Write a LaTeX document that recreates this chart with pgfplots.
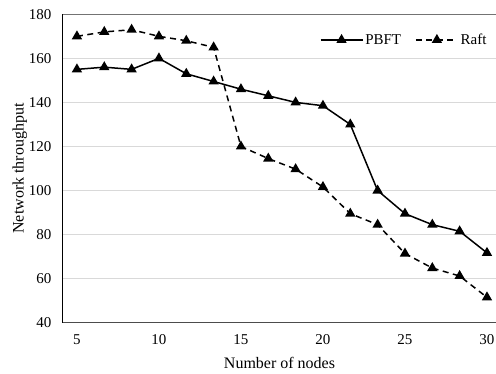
\documentclass[border=0pt]{standalone}
\usepackage{pgfplots}
\pgfplotsset{compat=1.18}
\usepackage{fontspec}
\setmainfont{Liberation Serif}
\begin{document}
\begin{tikzpicture}
\begin{axis}[
  at={(0pt,0pt)}, anchor=south west,
  scale only axis,
  width=433pt, height=308.4pt,
  xmin=4.15, xmax=30.55,
  ymin=40, ymax=180,
  xtick={5,10,15,20,25,30},
  ytick={40,60,...,180},
  /pgf/number format/assume math mode=true,
  tick label style={font=\fontsize{15}{17}\selectfont},
  major tick length=0pt,
  ymajorgrids,
  grid style={draw=black!15, line width=0.8pt},
  axis x line*=bottom,
  axis y line*=left,
  x axis line style={draw=black!70, line width=1pt, -},
  y axis line style={draw=black, line width=1pt, -},
  xticklabel style={yshift=-8pt},
  yticklabel style={xshift=-8pt},
  xlabel={Number of nodes},
  ylabel={Network throughput},
  label style={font=\fontsize{16}{18}\selectfont},
  xlabel style={yshift=-6pt},
  ylabel style={yshift=-5pt},
  legend style={draw=none, fill=none, at={(0.99,0.95)}, anchor=north east,
    font=\fontsize{15}{17}\selectfont, legend columns=2,
    /tikz/every even column/.append style={column sep=12pt}},
  legend image code/.code={\draw[#1] (0pt,0pt) -- (42pt,0pt); \path[#1] plot coordinates {(21pt,0pt)};},
]
\addplot[black, line width=1.5pt, mark=triangle*, mark size=4.5pt, mark options={solid}] coordinates {
(5.000,155) (6.667,156) (8.333,155) (10.000,160) (11.667,153) (13.333,149.5)
(15.000,146) (16.667,143) (18.333,140) (20.000,138.5) (21.667,130) (23.333,100)
(25.000,89.5) (26.667,84.5) (28.333,81.5) (30.000,71.7)
};
\addlegendentry{PBFT}
\addplot[black, line width=1.5pt, dash pattern=on 6pt off 4.5pt, mark=triangle*, mark size=4.5pt, mark options={solid}] coordinates {
(5.000,170) (6.667,172) (8.333,173) (10.000,170) (11.667,168) (13.333,165)
(15.000,120) (16.667,114.5) (18.333,109.7) (20.000,101.6) (21.667,89.5) (23.333,84.5)
(25.000,71.4) (26.667,64.8) (28.333,61.2) (30.000,51.5)
};
\addlegendentry{Raft}
\draw[black!55, line width=1pt] (axis cs:4.15,180) -- (axis cs:30.55,180);
\end{axis}
\pgfresetboundingbox
\path[use as bounding box] (-63pt,-51.3pt) rectangle (433pt,322.7pt);
\end{tikzpicture}
\end{document}
